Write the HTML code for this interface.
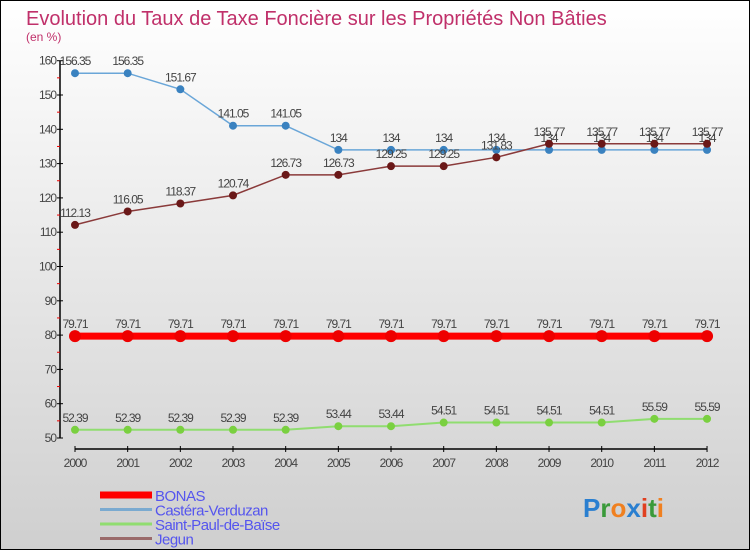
<!DOCTYPE html>
<html><head><meta charset="utf-8"><style>
body{margin:0}
#c{width:750px;height:550px;position:relative;box-sizing:border-box;border:1px solid #000;background:linear-gradient(#ffffff,#cfcfcf);font-family:"Liberation Sans",sans-serif;overflow:hidden}
</style></head><body>
<div id="c">
<svg id="s" width="748" height="548" xmlns="http://www.w3.org/2000/svg"></svg>
</div>
<script>
const years=[2000,2001,2002,2003,2004,2005,2006,2007,2008,2009,2010,2011,2012];
const bonas=[79.71,79.71,79.71,79.71,79.71,79.71,79.71,79.71,79.71,79.71,79.71,79.71,79.71];
const castera=[156.35,156.35,151.67,141.05,141.05,134,134,134,134,134,134,134,134];
const stpaul=[52.39,52.39,52.39,52.39,52.39,53.44,53.44,54.51,54.51,54.51,54.51,55.59,55.59];
const jegun=[112.13,116.05,118.37,120.74,126.73,126.73,129.25,129.25,131.83,135.77,135.77,135.77,135.77];
const yTicks=[50,60,70,80,90,100,110,120,130,140,150,160];
const NS="http://www.w3.org/2000/svg";
const s=document.getElementById('s');
const X=i=>74+i*52.67;
const Y=v=>437-(v-50)*3.43;
function el(t,a,p){const e=document.createElementNS(NS,t);for(const k in a)e.setAttribute(k,a[k]);(p||s).appendChild(e);return e;}
let t=el('text',{x:25,y:24,'font-size':20,fill:'#c0306a'});t.textContent='Evolution du Taux de Taxe Foncière sur les Propriétés Non Bâties';

t=el('text',{x:25,y:40,'font-size':12,fill:'#c0306a'});t.textContent='(en %)';

let ax=el('line',{x1:59,y1:Y(160),x2:59,y2:Y(50),stroke:'#000','stroke-width':1.5});

yTicks.forEach(v=>{el('line',{x1:56,x2:62,y1:Y(v),y2:Y(v),stroke:'#000'});
 if(v<160)el('line',{x1:56,x2:59,y1:Y(v+5),y2:Y(v+5),stroke:'#e00'});
 const l=el('text',{x:55,y:Y(v)+4,'font-size':12,'text-anchor':'end',fill:'#444','letter-spacing':'-1'});l.textContent=v;
 });
ax=el('line',{x1:X(0),x2:X(12),y1:448,y2:448,stroke:'#000','stroke-width':1.5});

years.forEach((y,i)=>{el('line',{x1:X(i),x2:X(i),y1:445,y2:451,stroke:'#000'});
 const l=el('text',{x:X(i),y:466,'font-size':12,'text-anchor':'middle',fill:'#444','letter-spacing':'-1'});l.textContent=y;
 });
function series(data,color,lw,r,dot,name){
 const g=el('g',{});
 el('polyline',{points:data.map((v,i)=>X(i)+','+Y(v)).join(' '),fill:'none',stroke:color,'stroke-width':lw},g);
 data.forEach((v,i)=>{const c=el('circle',{cx:X(i),cy:Y(v),r:r,fill:dot},g);
  
  const l=el('text',{x:X(i),y:Y(v)-8,'font-size':12,'text-anchor':'middle',fill:'#444','letter-spacing':'-1'},g);l.textContent=v;
  });
}
series(castera,'#6aa6d8',1.5,4,'#3a82c0','castera-verduzan');
series(jegun,'#8a3a3a',1.5,4,'#6a1818','jegun');
series(stpaul,'#90dd70',2,4,'#7ad040','saint-paul-de-baise');
series(bonas,'#ff0000',7,6,'#ee0000','bonas');
const legend=[['BONAS','#ff0000',7],['Castéra-Verduzan','#7aaad0',3],['Saint-Paul-de-Baïse','#90dd70',3],['Jegun','#9a6a6a',3]];
legend.forEach((d,i)=>{const y=494+i*14.5;
 const g=el('g',{});
 el('line',{x1:99,x2:151,y1:y,y2:y,stroke:d[1],'stroke-width':d[2]},g);
 const l=el('text',{x:154,y:y+6,'font-size':15,fill:'#5555ee','letter-spacing':'-0.5'},g);l.textContent=d[0];});
const lg=el('text',{x:582,y:516,'font-size':26,'font-weight':'bold','font-family':'Liberation Sans'});

[['P','#2a7fd0'],['r','#3a9a3a'],['o','#f08020'],['x','#2a7fd0'],['i','#e04020'],['t','#3a9a3a'],['i','#f08020']].forEach(c=>{const ts=el('tspan',{fill:c[1]},lg);ts.textContent=c[0];});
</script>
</body></html>
